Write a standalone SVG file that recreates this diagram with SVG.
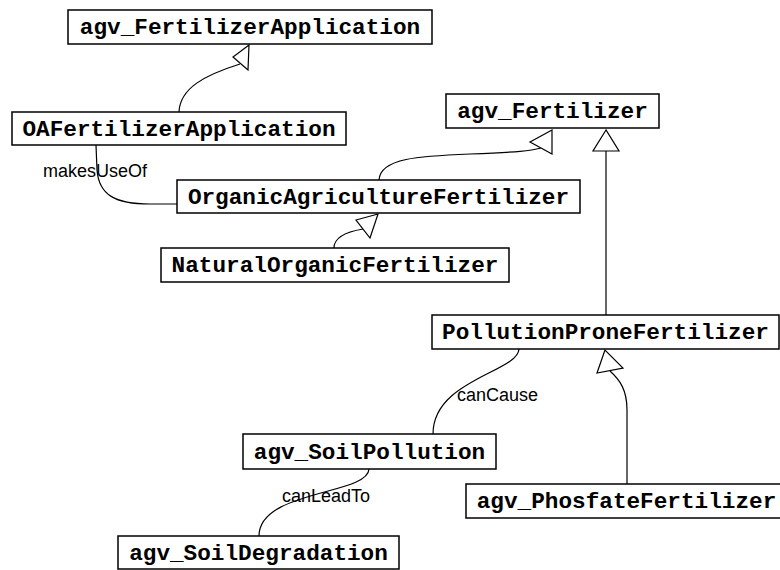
<svg xmlns="http://www.w3.org/2000/svg" width="780" height="570" viewBox="0 0 780 570">
<style>
.box{fill:#fff;stroke:#000;stroke-width:1.5}
.nt{font-family:"Liberation Mono","Courier New",monospace;font-weight:bold;font-size:22.7px;fill:#000;text-anchor:middle}
.edge{fill:none;stroke:#000;stroke-width:1.2}
.head{fill:#fff;stroke:#000;stroke-width:1.2;stroke-linejoin:miter}
.lbl{font-family:"Liberation Sans",Arial,sans-serif;font-size:18px;fill:#000}
</style>
<rect width="780" height="570" fill="#fff"/>
<g id="connectors">
<path class="edge" d="M179,112 C180,88 205,75 240,64"/>
<polygon class="head" points="249,45 233,57 248,70"/>
<path class="edge" d="M379,180 C380,158 420,156 470,154 S530,151 541,148"/>
<polygon class="head" points="552,130 530,142 552,154"/>
<path class="edge" d="M606,315 L606,151"/>
<polygon class="head" points="606,130 593,151 619,151"/>
<path class="edge" d="M334,248 C334,238 345,232 363,229"/>
<polygon class="head" points="378,214 356,220 370,238"/>
<path class="edge" d="M627,484 L627,410 C627,390 620,380 610,371"/>
<polygon class="head" points="605,350 597,373 623,368"/>
<path class="edge" d="M96,145 L97,170 C99,195 115,204 150,204 L177,204"/>
<text class="lbl" x="43" y="177">makesUseOf</text>
<path class="edge" d="M519,349 C518,372 433,380 433,434"/>
<text class="lbl" x="457" y="401">canCause</text>
<path class="edge" d="M369,469 C368,495 259,490 259,536"/>
<text class="lbl" x="282" y="502">canLeadTo</text>
</g>
<g id="agv_FertilizerApplication"><rect class="box" x="68" y="10" width="364" height="34"/><text class="nt" x="250" y="34">agv_FertilizerApplication</text></g>
<g id="OAFertilizerApplication"><rect class="box" x="12" y="112" width="334" height="33"/><text class="nt" x="179" y="136">OAFertilizerApplication</text></g>
<g id="agv_Fertilizer"><rect class="box" x="446" y="94" width="213" height="34"/><text class="nt" x="552.5" y="118">agv_Fertilizer</text></g>
<g id="OrganicAgricultureFertilizer"><rect class="box" x="177" y="180" width="403" height="33"/><text class="nt" x="378.5" y="204">OrganicAgricultureFertilizer</text></g>
<g id="NaturalOrganicFertilizer"><rect class="box" x="161" y="248" width="348" height="34"/><text class="nt" x="335" y="272">NaturalOrganicFertilizer</text></g>
<g id="PollutionProneFertilizer"><rect class="box" x="432" y="315" width="347" height="34"/><text class="nt" x="605.5" y="339">PollutionProneFertilizer</text></g>
<g id="agv_SoilPollution"><rect class="box" x="243" y="434" width="253" height="35"/><text class="nt" x="369.5" y="459">agv_SoilPollution</text></g>
<g id="agv_PhosfateFertilizer"><rect class="box" x="466" y="484" width="321" height="34"/><text class="nt" x="626.5" y="508">agv_PhosfateFertilizer</text></g>
<g id="agv_SoilDegradation"><rect class="box" x="118" y="536" width="281" height="33"/><text class="nt" x="258.5" y="560">agv_SoilDegradation</text></g>
</svg>
